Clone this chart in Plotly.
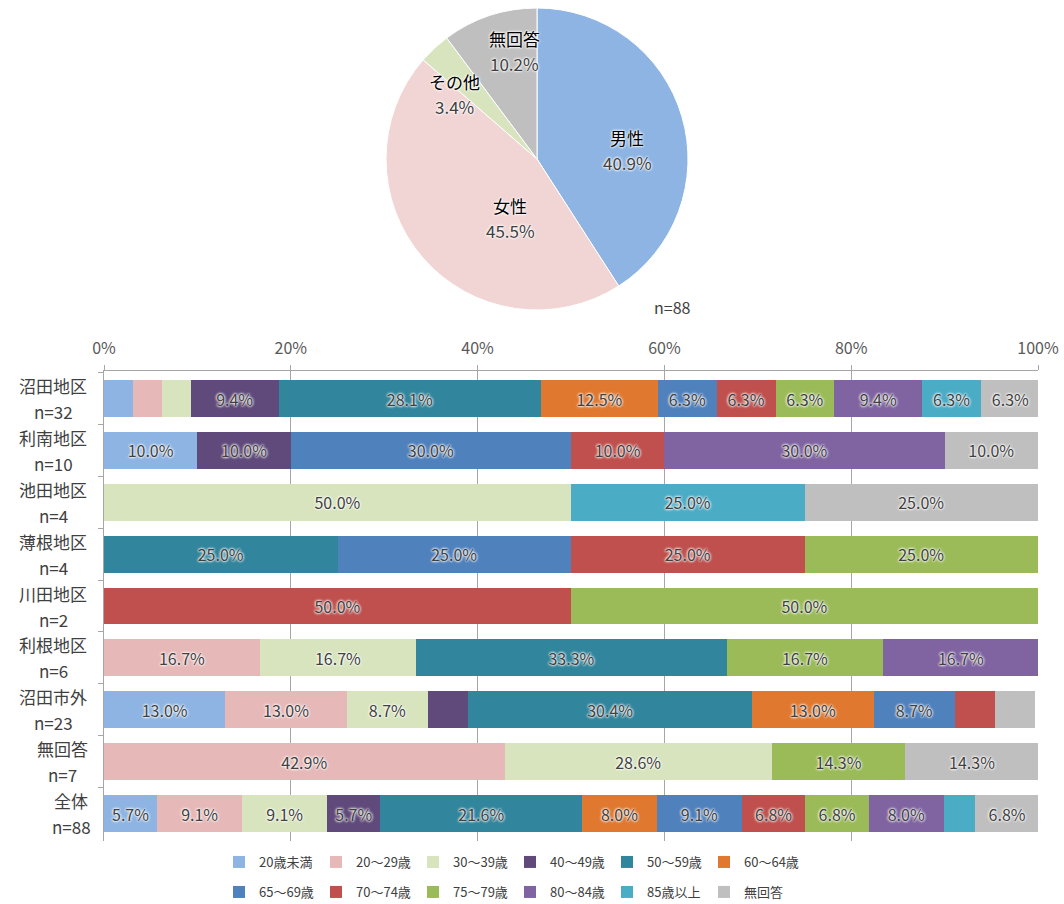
import plotly.graph_objects as go

W, H = 1064, 904

# ---- pie: gender ----
gender_labels = ["男性", "女性", "その他", "無回答"]
gender_pct = [40.9, 45.5, 3.4, 10.2]
gender_colors = ["#8DB4E2", "#F1D5D4", "#D7E4BD", "#BFBFBF"]

# ---- bars: age by area (%) ----
areas = ["沼田地区", "利南地区", "池田地区", "薄根地区", "川田地区",
         "利根地区", "沼田市外", "無回答", "全体"]
area_n = [32, 10, 4, 4, 2, 6, 23, 7, 88]

age_groups = ["20歳未満", "20～29歳", "30～39歳", "40～49歳", "50～59歳", "60～64歳",
              "65～69歳", "70～74歳", "75～79歳", "80～84歳", "85歳以上", "無回答"]
age_colors = ["#8DB4E2", "#E6B9B8", "#D7E4BD", "#604A7B", "#31859C", "#E0782F",
              "#4F81BD", "#C0504D", "#9BBB59", "#8064A2", "#4BACC6", "#BFBFBF"]

u20 = [3.1, 10.0, 0, 0, 0, 0, 13.0, 0, 5.7]
a20s = [3.1, 0, 0, 0, 0, 16.7, 13.0, 42.9, 9.1]
a30s = [3.1, 0, 50.0, 0, 0, 16.7, 8.7, 28.6, 9.1]
a40s = [9.4, 10.0, 0, 0, 0, 0, 4.3, 0, 5.7]
a50s = [28.1, 0, 0, 25.0, 0, 33.3, 30.4, 0, 21.6]
a60_64 = [12.5, 0, 0, 0, 0, 0, 13.0, 0, 8.0]
a65_69 = [6.3, 30.0, 0, 25.0, 0, 0, 8.7, 0, 9.1]
a70_74 = [6.3, 10.0, 0, 25.0, 50.0, 0, 4.3, 0, 6.8]
a75_79 = [6.3, 0, 0, 25.0, 50.0, 16.7, 0, 14.3, 6.8]
a80_84 = [9.4, 30.0, 0, 0, 0, 16.7, 0, 0, 8.0]
a85 = [6.3, 0, 25.0, 0, 0, 0, 0, 0, 3.4]
no_ans = [6.3, 10.0, 25.0, 0, 0, 0, 4.3, 14.3, 6.8]
age_values = [u20, a20s, a30s, a40s, a50s, a60_64,
              a65_69, a70_74, a75_79, a80_84, a85, no_ans]

FONT = "Noto Sans CJK JP"
GLOW = "0 0 2px #fff, 0 0 3px #fff, 0 0 3px #fff"

fig = go.Figure()

# pie
fig.add_trace(go.Pie(
    labels=gender_labels, values=gender_pct, sort=False,
    direction="clockwise", rotation=0,
    marker=dict(colors=gender_colors, line=dict(color="#ffffff", width=1)),
    textinfo="none", hoverinfo="label+percent", showlegend=False,
    domain=dict(x=[386 / W, 688 / W], y=[1 - 310 / H, 1 - 8 / H]),
))

# stacked bars
for i, (name, vals, col) in enumerate(zip(age_groups, age_values, age_colors)):
    fig.add_trace(go.Bar(
        y=areas, x=vals, orientation="h", name=name,
        marker=dict(color=col, line=dict(width=0)),
        text=[f"{v:.1f}%" if v >= 5 else "" for v in vals],
        texttemplate="%{text}",
        textposition="inside", insidetextanchor="middle", textangle=0,
        constraintext="none",
        textfont=dict(family=FONT, size=16, color="#404040", shadow=GLOW),
        legend="legend" if i < 6 else "legend2",
    ))

# pie labels (block centres in px)
pie_label_pos = {"男性": (627, 150), "女性": (510, 218),
                 "その他": (454, 94), "無回答": (514, 51)}
annotations = []
for lab, pct in zip(gender_labels, gender_pct):
    cx, cy = pie_label_pos[lab]
    for txt, dy, col in ((lab, -12.5, "#000000"), (f"{pct:.1f}%", 12.5, "#404040")):
        annotations.append(dict(
            text=txt, x=cx / W, y=1 - (cy + dy) / H, xref="paper", yref="paper",
            xanchor="center", yanchor="middle", showarrow=False,
            font=dict(family=FONT, size=17, color=col, shadow=GLOW)))

annotations.append(dict(
    text="n=88", x=672 / W, y=1 - 307 / H, xref="paper", yref="paper",
    xanchor="center", yanchor="middle", showarrow=False,
    font=dict(family=FONT, size=16, color="#404040")))

# category labels (two centred lines, block right-aligned)
for area, n in zip(areas, area_n):
    cx = 89 - len(area) * 18 / 2
    for txt, ys in ((area, 13), (f"n={n}", -13)):
        annotations.append(dict(
            text=txt, x=cx / W, y=area, xref="paper", yref="y",
            xanchor="center", yanchor="middle", yshift=ys, showarrow=False,
            font=dict(family=FONT, size=17, color="#404040")))

legend_style = dict(
    orientation="h", x=219 / W, xanchor="left", yanchor="middle",
    font=dict(family=FONT, size=13, color="#404040"),
    entrywidth=52, bgcolor="rgba(0,0,0,0)", traceorder="normal",
)

fig.update_layout(
    width=W, height=H, template="none",
    margin=dict(l=0, r=0, t=0, b=0, autoexpand=False),
    paper_bgcolor="#ffffff", plot_bgcolor="#ffffff",
    font=dict(family=FONT, color="#404040"),
    barmode="stack", bargap=0.29,
    annotations=annotations,
    xaxis=dict(
        domain=[104 / W, 1038 / W], range=[0, 100], dtick=20,
        ticksuffix="%", side="top", automargin=False,
        showgrid=True, gridcolor="#A6A6A6", gridwidth=1, zeroline=False,
        showline=True, linecolor="#A6A6A6", linewidth=1,
        ticks="outside", ticklen=5, tickcolor="#A6A6A6", ticklabelstandoff=5,
        tickfont=dict(family=FONT, size=16, color="#595959"),
        fixedrange=True,
    ),
    yaxis=dict(
        domain=[1 - 841 / H, 1 - 371 / H], autorange="reversed",
        type="category", automargin=False, showticklabels=False,
        showgrid=False, zeroline=False,
        showline=True, linecolor="#A6A6A6", linewidth=1,
        ticks="outside", ticklen=5, tickcolor="#A6A6A6", tickson="boundaries",
        fixedrange=True,
    ),
    legend=dict(legend_style, y=1 - 862 / H),
    legend2=dict(legend_style, y=1 - 892 / H),
)

# drop the browser's default 8px body margin so the figure sits at (0, 0)
fig.write_html("out.html", config={"displayModeBar": False},
               post_script="document.body.style.margin='0';")
